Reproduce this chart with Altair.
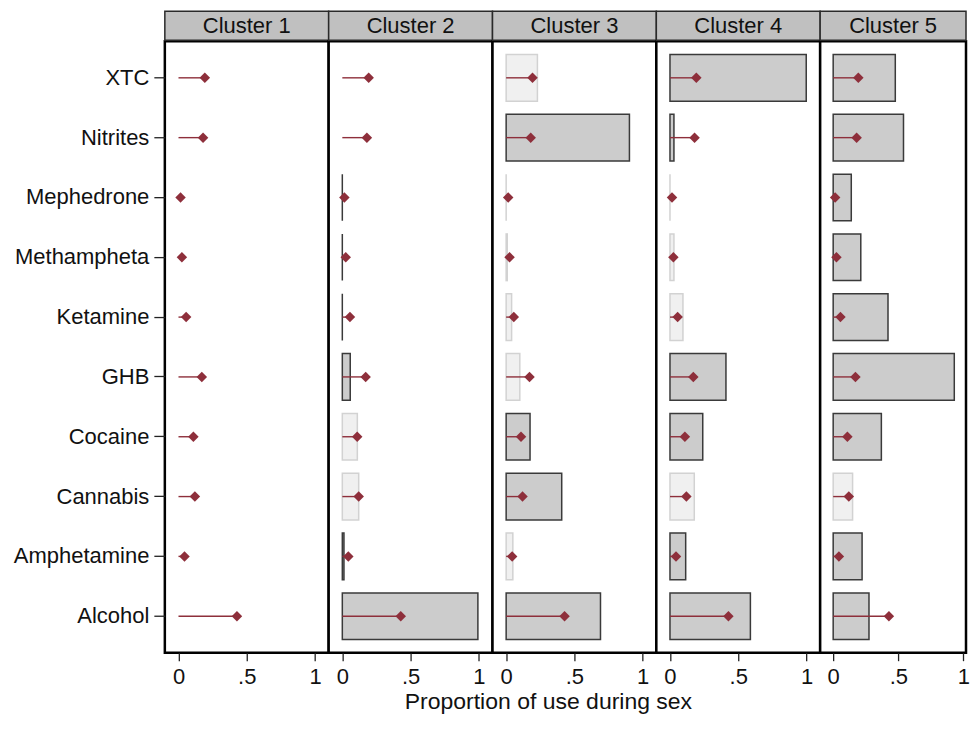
import altair as alt
import pandas as pd

drugs = ["XTC", "Nitrites", "Mephedrone", "Methampheta", "Ketamine",
         "GHB", "Cocaine", "Cannabis", "Amphetamine", "Alcohol"]
overall = [0.193, 0.18, 0.015, 0.025, 0.056, 0.171, 0.109, 0.12, 0.044, 0.428]

clusters = ["Cluster 1", "Cluster 2", "Cluster 3", "Cluster 4", "Cluster 5"]

# cluster proportions (None = no bar drawn); style d = dark, l = light
c1_vals = [None] * 10
c1_style = [None] * 10
c2_vals = [None, None, 0.0, 0.0, 0.0, 0.058, 0.11, 0.12, 0.012, 0.993]
c2_style = [None, None, "d", "d", "d", "d", "l", "l", "d", "d"]
c3_vals = [0.229, 0.903, 0.0, 0.008, 0.04, 0.1, 0.175, 0.407, 0.049, 0.691]
c3_style = ["l", "d", "l", "l", "l", "l", "d", "d", "l", "d"]
c4_vals = [0.998, 0.029, 0.0, 0.029, 0.095, 0.41, 0.24, 0.178, 0.115, 0.589]
c4_style = ["d", "d", "l", "l", "l", "d", "d", "l", "d", "d"]
c5_vals = [0.477, 0.54, 0.139, 0.212, 0.421, 0.93, 0.37, 0.149, 0.222, 0.275]
c5_style = ["d", "d", "d", "d", "d", "d", "d", "l", "d", "d"]

all_vals = [c1_vals, c2_vals, c3_vals, c4_vals, c5_vals]
all_style = [c1_style, c2_style, c3_style, c4_style, c5_style]

FONT = "Liberation Sans"
RED = "#8e2f3b"

ov_df = pd.DataFrame({"drug": drugs, "overall": overall, "zero": [0.0] * len(drugs)})


def panel(i):
    if i < 4:
        w, xdom = 164, [-0.1, 1.1]
    else:
        w, xdom = 146, [-0.1, 1.02]
    xscale = alt.Scale(domain=xdom, nice=False, zero=False)
    yscale = alt.Scale(domain=drugs, paddingInner=0.22, paddingOuter=0.22)

    axis_kw = dict(values=[0, 0.5, 1],
                   labelExpr="datum.value == 0.5 ? '.5' : (datum.value == 0 ? '0' : '1')",
                   tickSize=8, tickColor="#222222", tickWidth=1.3,
                   labelFontSize=22, labelFont=FONT, labelColor="#111111",
                   labelPadding=6, labelFlush=False, labelOverlap=False,
                   labelBound=False, grid=False, domain=False)
    if i == 2:
        xaxis = alt.Axis(title="Proportion of use during sex", titleFontSize=23,
                         titleFont=FONT, titleFontWeight="normal", titleColor="#111111",
                         titleX=55.5, titlePadding=3, **axis_kw)
    else:
        xaxis = alt.Axis(title=None, **axis_kw)

    if i == 0:
        yaxis = alt.Axis(title=None, labelFontSize=22, labelFont=FONT,
                         labelColor="#111111", labelPadding=5, tickSize=11,
                         tickColor="#222222", tickWidth=1.3, domain=False, grid=False)
    else:
        yaxis = None

    hdr_df = pd.DataFrame({"label": [clusters[i]]})
    header_rect = alt.Chart(hdr_df).mark_rect(
        fill="#c0c0c0", stroke="#2a2a2a", strokeWidth=1.5
    ).encode(x=alt.value(0), x2=alt.value(w), y=alt.value(-30), y2=alt.value(-1))
    header_text = alt.Chart(hdr_df).mark_text(
        fontSize=22, font=FONT, color="#111111", baseline="middle"
    ).encode(text="label:N", x=alt.value(w / 2), y=alt.value(-15))

    layers = [header_rect, header_text]

    rows = [(d, v, s) for d, v, s in zip(drugs, all_vals[i], all_style[i]) if v is not None]
    if rows:
        bar_df = pd.DataFrame(rows, columns=["drug", "value", "style"])
        bars = alt.Chart(bar_df).mark_bar(strokeWidth=1.5).encode(
            x=alt.X("value:Q", scale=xscale, axis=xaxis),
            x2=alt.datum(0),
            y=alt.Y("drug:N", scale=yscale, sort=drugs, axis=yaxis),
            fill=alt.Fill("style:N", scale=alt.Scale(domain=["d", "l"], range=["#cccccc", "#f0f0f0"]), legend=None),
            stroke=alt.Stroke("style:N", scale=alt.Scale(domain=["d", "l"], range=["#3a3a3a", "#d2d2d2"]), legend=None),
        )
        layers.append(bars)

    rules = alt.Chart(ov_df).mark_rule(color=RED, strokeWidth=1.4).encode(
        x=alt.X("zero:Q", scale=xscale, axis=xaxis),
        x2="overall:Q",
        y=alt.Y("drug:N", scale=yscale, sort=drugs, axis=yaxis),
    )
    points = alt.Chart(ov_df).mark_point(
        shape="diamond", filled=True, size=110, color=RED, opacity=1
    ).encode(
        x=alt.X("overall:Q", scale=xscale, axis=xaxis),
        y=alt.Y("drug:N", scale=yscale, sort=drugs, axis=yaxis),
    )
    layers += [rules, points]
    return alt.layer(*layers).properties(
        width=w, height=612,
        view=alt.ViewBackground(stroke="black", strokeWidth=2.5, fill="white"),
    )


chart = alt.hconcat(*[panel(i) for i in range(5)], spacing=0, bounds="flush").properties(
    padding={"left": 4, "top": 1, "right": 0, "bottom": 0}
).configure_view(stroke="black", strokeWidth=2.5).configure(background="white")

chart.save("out.html", embed_options={"renderer": "svg", "actions": False})
